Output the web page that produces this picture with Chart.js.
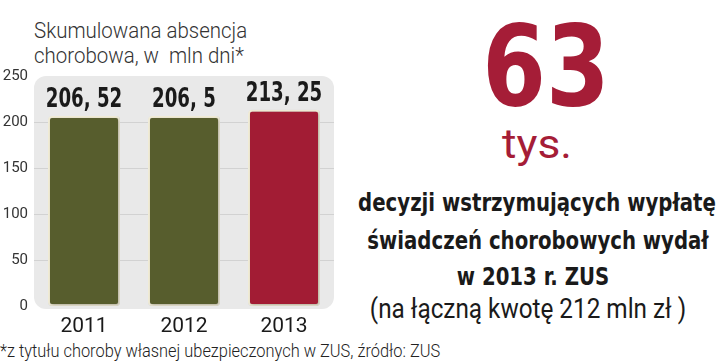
<!DOCTYPE html>
<html>
<head>
<meta charset="utf-8">
<script src="https://cdn.jsdelivr.net/npm/chart.js@4"></script>
<style>
  html, body { margin: 0; padding: 0; background: #fff; }
  #wrap { position: relative; width: 720px; height: 363px; overflow: hidden; font-family: Roboto, sans-serif; }
  #chartBox { position: absolute; left: 0; top: 0; width: 345px; height: 340px; }
  .t { position: absolute; white-space: nowrap; transform-origin: 50% 50%; }
  .cond { font-family: "DejaVu Sans Condensed", "DejaVu Sans", sans-serif; font-stretch: condensed; }
  .title { position: absolute; left: 34px; top: 18px; font-size: 22px; font-weight: 300; color: #333; line-height: 25px; transform: scaleX(0.93); transform-origin: 0 0; white-space: nowrap; }
  .num { left: 546px; top: 10px; font-weight: bold; font-size: 113px; line-height: 113px; color: #a51d37; transform: translateX(-50%) scaleX(0.9); }
  .tys { left: 537px; top: 124px; font-size: 41px; line-height: 41px; font-weight: 400; color: #a51d37; transform: translateX(-50%) scaleX(1.08); }
  .bold { font-weight: bold; font-size: 25px; line-height: 25px; color: #1a1a1a; transform: translateX(-50%) scaleX(0.877); }
  .sub { left: 528px; top: 296px; font-size: 27px; line-height: 27px; font-weight: 400; color: #1a1a1a; transform: translateX(-50%) scaleX(0.9); }
  .foot { position: absolute; left: 0; top: 342px; font-size: 18px; line-height: 18px; font-weight: 300; color: #222; white-space: nowrap; transform: scaleX(0.91); transform-origin: 0 0; }
</style>
</head>
<body>
<div id="wrap">
  <div class="title">Skumulowana absencja<br>chorobowa, w&nbsp; mln dni*</div>
  <div id="chartBox"><canvas id="chart"></canvas></div>
  <div class="t cond num">63</div>
  <div class="t tys">tys.</div>
  <div class="t cond bold" style="left:537px; top:190px;">decyzji wstrzymujących wypłatę</div>
  <div class="t cond bold" style="left:538px; top:228px;">świadczeń chorobowych wydał</div>
  <div class="t cond bold" style="left:533px; top:264px;">w 2013 r. ZUS</div>
  <div class="t sub">(na łączną kwotę 212 mln zł )</div>
  <div class="foot">*z tytułu choroby własnej ubezpieczonych w ZUS, źródło: ZUS</div>
</div>
<script>
const years = ['2011', '2012', '2013'];
const absenceDays = [206.52, 206.5, 213.25];
const barColors = ['#575d2d', '#575d2d', '#a21c34'];
const yTicks = [0, 50, 100, 150, 200, 250];

// grey rounded panel behind the plot
const panelPlugin = {
    id: 'panel',
    beforeDraw(chart) {
        const { ctx, chartArea } = chart;
        const x = chartArea.left, y = chartArea.top;
        const w = chartArea.right - chartArea.left, h = chartArea.bottom - chartArea.top + 3;
        ctx.save();
        ctx.fillStyle = '#e9e9e9';
        ctx.beginPath();
        ctx.roundRect(x, y, w, h, 12);
        ctx.fill();
        ctx.restore();
    }
};

const shadowPlugin = {
    id: 'barShadow',
    beforeDatasetsDraw(chart) {
        const ctx = chart.ctx;
        ctx.save();
        ctx.shadowColor = 'rgba(0,0,0,0.3)';
        ctx.shadowBlur = 3;
        ctx.shadowOffsetX = 1;
        ctx.shadowOffsetY = 1;
    },
    afterDatasetsDraw(chart) {
        chart.ctx.restore();
    }
};

// "206, 52" style labels above bars, squeezed to look condensed
const valueLabels = {
    id: 'valueLabels',
    afterDatasetsDraw(chart) {
        const ctx = chart.ctx;
        const meta = chart.getDatasetMeta(0);
        meta.data.forEach((bar, i) => {
            const txt = String(absenceDays[i]).replace('.', ', ');
            ctx.save();
            ctx.translate(bar.x, bar.y - 9);
            ctx.scale(0.7, 1);
            ctx.fillStyle = '#1a1a1a';
            ctx.font = 'bold 26px "DejaVu Sans", sans-serif';
            ctx.textAlign = 'center';
            ctx.textBaseline = 'alphabetic';
            ctx.fillText(txt, 0, 0);
            ctx.restore();
        });
    }
};

const ctx = document.getElementById('chart').getContext('2d');
new Chart(ctx, {
    type: 'bar',
    data: {
        labels: years,
        datasets: [{
            data: absenceDays,
            backgroundColor: barColors,
            borderColor: '#f3eed8',
            borderWidth: 2,
            borderRadius: 4,
            borderSkipped: false,
            categoryPercentage: 1,
            barPercentage: 0.72
        }]
    },
    options: {
        responsive: true,
        maintainAspectRatio: false,
        animation: false,
        layout: { padding: { top: 76, right: 11, left: 0, bottom: 0 } },
        plugins: {
            legend: { display: false },
            tooltip: { enabled: false }
        },
        scales: {
            x: {
                grid: { display: false },
                border: { display: false },
                ticks: { color: '#1a1a1a', font: { family: 'Roboto', size: 21 }, padding: 0 },
                afterFit(scale) { scale.height = 34; }
            },
            y: {
                min: 0,
                max: 250,
                afterBuildTicks(scale) { scale.ticks = yTicks.map(v => ({ value: v })); },
                grid: { color: '#d2d2d2', drawTicks: false, lineWidth: c => (c.tick && (c.tick.value === 0 || c.tick.value === 250)) ? 0 : 1 },
                border: { display: false },
                ticks: { color: '#333', font: { family: 'Roboto', size: 15 }, padding: 6 },
                afterFit(scale) { scale.width = 34; }
            }
        }
    },
    plugins: [panelPlugin, shadowPlugin, valueLabels]
});
</script>
</body>
</html>
